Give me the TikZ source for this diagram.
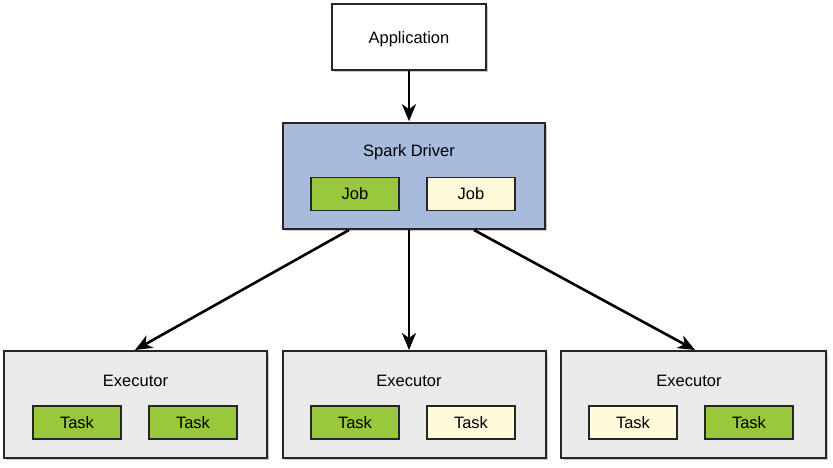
\documentclass[tikz,border=0pt]{standalone}
\usepackage{fontspec}
\setmainfont{Liberation Sans}
\usetikzlibrary{shadows,arrows.meta}
\definecolor{drivblue}{RGB}{168,187,221}
\definecolor{taskgreen}{RGB}{154,200,60}
\definecolor{taskyellow}{RGB}{255,250,218}
\definecolor{execgray}{RGB}{234,234,234}
\tikzset{
  box/.style={draw=black!85, line width=1.6pt, drop shadow={shadow xshift=2pt, shadow yshift=-2pt, fill=black!35, opacity=.6}},
  small/.style={draw=black!85, line width=1.3pt, minimum width=88pt, minimum height=33pt},
  arr/.style={-{Stealth[length=17pt,width=14pt,inset=5pt]}, line width=2.6pt}
}
\begin{document}
\begin{tikzpicture}[x=1pt,y=-1pt,font=\fontsize{16.5}{19}\selectfont]
\useasboundingbox (0,0) rectangle (833,467);

   \node[box,fill=white,minimum width=154pt,minimum height=66pt] at (409,37) (app) {};
   \node at (409,39) (applabel) {Application};

   \node[box,fill=drivblue,minimum width=262pt,minimum height=106pt] at (414,176) (driver) {};
   \node at (409,152) (drivlabel) {Spark Driver};
   \node[small,fill=taskgreen] at (355,194) (job1) {Job};
   \node[small,fill=taskyellow] at (471,194) (job2) {Job};

   \node[box,fill=execgray,minimum width=263pt,minimum height=107pt] at (135.5,404.5) (execA) {};
   \node at (135.5,381) (labA) {Executor};
   \node[small,fill=taskgreen] at (77,422.5) (taskA1) {Task};
   \node[small,fill=taskgreen] at (193,422.5) (taskA2) {Task};

   \node[box,fill=execgray,minimum width=263pt,minimum height=107pt] at (414.5,404.5) (execB) {};
   \node at (409,381) (labB) {Executor};
   \node[small,fill=taskgreen] at (355,422.5) (taskB1) {Task};
   \node[small,fill=taskyellow] at (471,422.5) (taskB2) {Task};

   \node[box,fill=execgray,minimum width=265pt,minimum height=107pt] at (693.5,404.5) (execC) {};
   \node at (689,381) (labC) {Executor};
   \node[small,fill=taskyellow] at (633,422.5) (taskC1) {Task};
   \node[small,fill=taskgreen] at (749,422.5) (taskC2) {Task};

   \coordinate (d1) at (349,230);
   \coordinate (d2) at (409,230);
   \coordinate (d3) at (474,230);
   \coordinate (e1) at (135,350);
   \coordinate (e2) at (409,350);
   \coordinate (e3) at (695,350);

   \draw[arr] (app.south -| d2) -- ([yshift=1pt]driver.north -| d2);
   \draw[arr] (d1) -- (e1);
   \draw[arr] (d2) -- (e2);
   \draw[arr] (d3) -- (e3);

\end{tikzpicture}
\end{document}
